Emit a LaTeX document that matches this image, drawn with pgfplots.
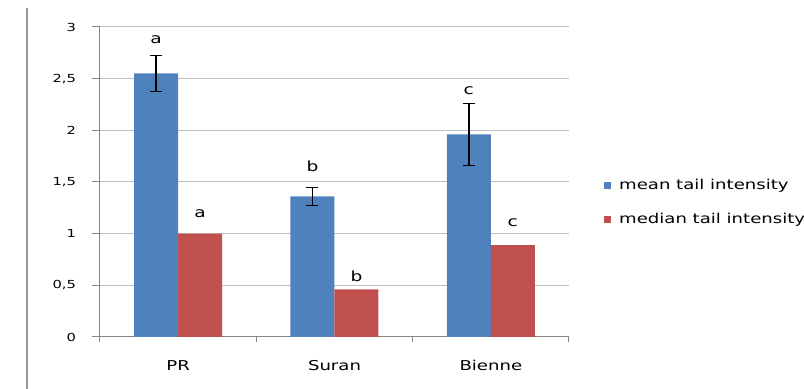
\documentclass[border=0pt]{standalone}
\usepackage{fontspec}
\setmainfont{DejaVu Sans}[FakeStretch=1.33]
\usepackage{pgfplots}
\pgfplotsset{compat=1.18}
\definecolor{barblue}{RGB}{79,129,189}
\definecolor{barred}{RGB}{192,80,77}
\definecolor{axgray}{RGB}{134,134,134}
\definecolor{gridgray}{RGB}{190,190,190}
\definecolor{framegray}{RGB}{150,150,150}
\begin{document}
\begin{tikzpicture}
\begin{axis}[
  at={(0,0)}, anchor=south west,
  width=351.75pt, height=232.5pt, scale only axis,
  ybar=0pt, bar width=33pt,
  xmin=-0.5, xmax=2.5, ymin=0, ymax=3,
  axis x line=bottom, axis y line=left,
  axis line style={axgray, line width=0.75pt, -},
  ymajorgrids, grid style={gridgray, line width=0.75pt},
  ytick={0,0.5,1,1.5,2,2.5,3},
  yticklabels={0,{0,5},1,{1,5},2,{2,5},3},
  xtick={0,1,2}, xticklabels={PR,Suran,Bienne},
  minor xtick={-0.5,0.5,1.5,2.5},
  tick align=outside,
  major x tick style={draw=none},
  minor x tick style={axgray, line width=0.75pt},
  y tick style={axgray, line width=0.75pt},
  major tick length=6pt, minor tick length=3.75pt,
  yticklabel style={font=\fontsize{8.3}{10}\selectfont, anchor=east, xshift=-8.5pt},
  xticklabel style={font=\fontsize{10.2}{12}\selectfont, yshift=-8pt},
  legend style={draw=none, fill=none, at={(1.074,0.434)}, anchor=west,
    font=\fontsize{10.2}{12}\selectfont, row sep=12pt, inner sep=0pt,
    /tikz/every even column/.append style={column sep=0pt}},
  legend cell align=left,
  legend image code/.code={\fill[#1] (0pt,-2.7pt) rectangle (5.4pt,2.7pt);},
  legend style={nodes={inner xsep=6pt}},
  clip=false,
]
\addplot[fill=barblue, draw=none,
  error bars/.cd, y dir=both, y explicit,
  error bar style={black, line width=1.1pt},
  error mark options={rotate=90, mark size=4.5pt, black, line width=1.1pt}]
  coordinates {(0,2.55) +- (0,0.175) (1,1.36) +- (0,0.088) (2,1.96) +- (0,0.30)};
\addplot[fill=barred, draw=none]
  coordinates {(0,1.00) (1,0.46) (2,0.89)};
\legend{mean tail intensity, median tail intensity}
\node[anchor=base, font=\fontsize{10.5}{12}\selectfont] at (axis cs:-0.1407,2.836) {a};
\node[anchor=base, font=\fontsize{10.5}{12}\selectfont] at (axis cs:0.1407,1.158) {a};
\node[anchor=base, font=\fontsize{10.5}{12}\selectfont] at (axis cs:0.8593,1.60) {b};
\node[anchor=base, font=\fontsize{10.5}{12}\selectfont] at (axis cs:1.1407,0.535) {b};
\node[anchor=base, font=\fontsize{10.5}{12}\selectfont] at (axis cs:1.8593,2.342) {c};
\node[anchor=base, font=\fontsize{10.5}{12}\selectfont] at (axis cs:2.1407,1.067) {c};
\end{axis}
\draw[framegray, line width=1.5pt] (-54.75pt,-39pt) -- (-54.75pt,246.75pt);
\pgfresetboundingbox
\path[use as bounding box] (-75pt,-39pt) rectangle (528pt,252.75pt);
\end{tikzpicture}
\end{document}
